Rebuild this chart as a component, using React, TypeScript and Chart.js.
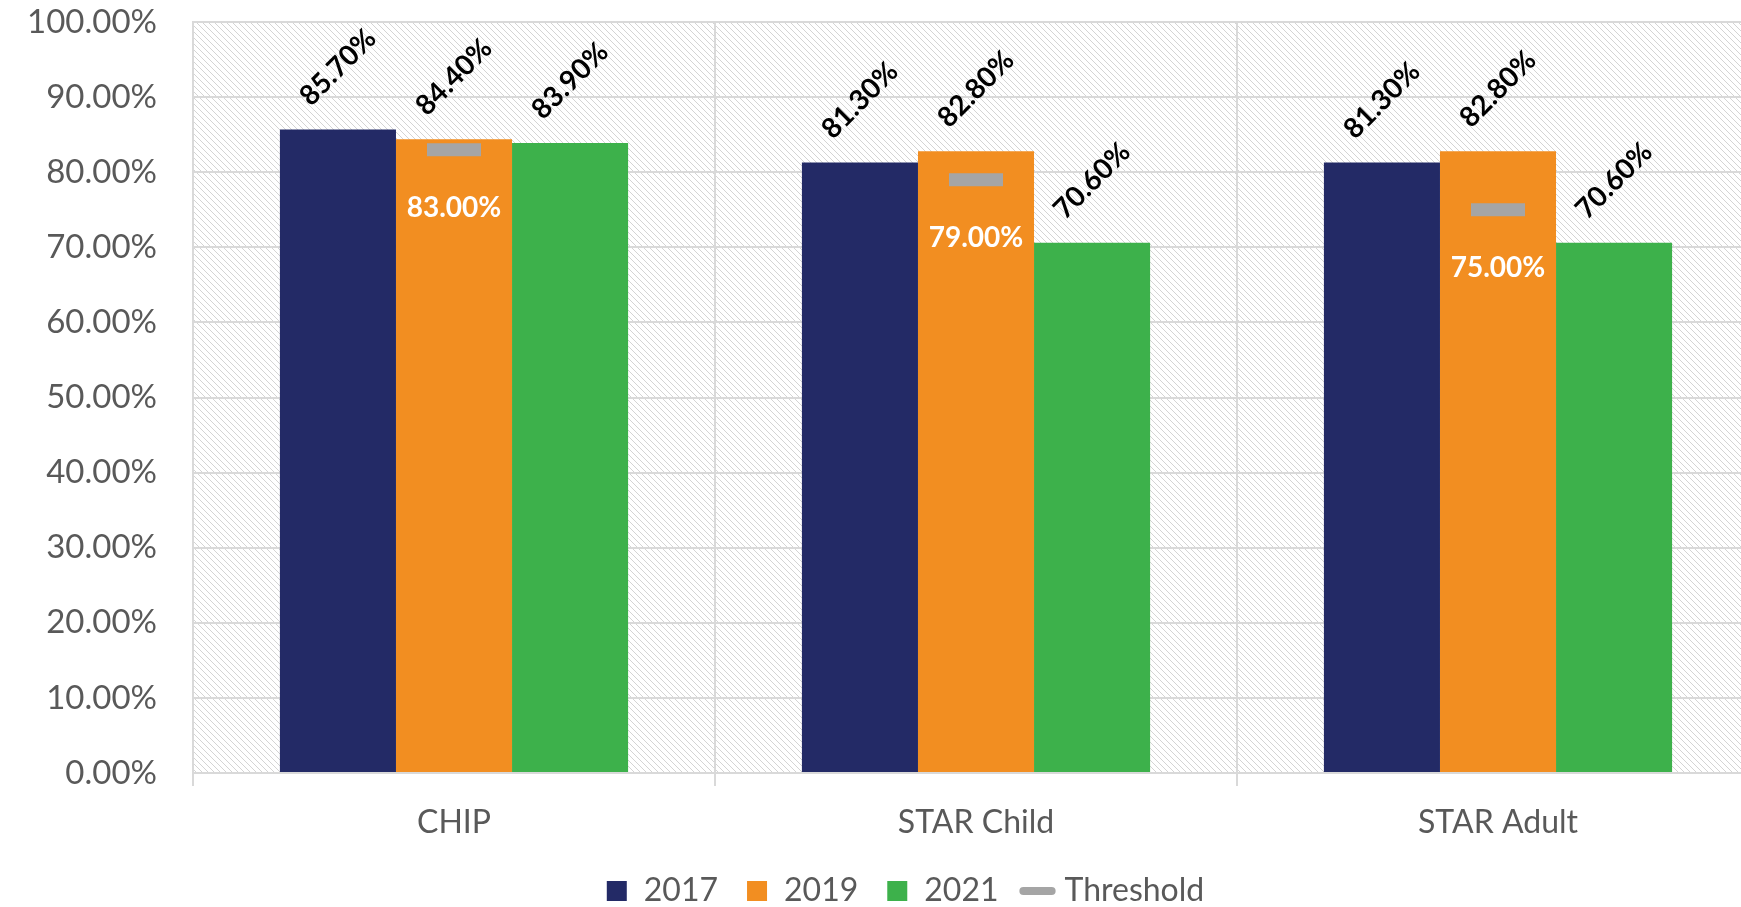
import React, { useEffect, useRef } from "react";
import { Chart, registerables } from "chart.js";

Chart.register(...registerables);

const categories = ["CHIP", "STAR Child", "STAR Adult"];
const values2017 = [85.7, 81.3, 81.3];
const values2019 = [84.4, 82.8, 82.8];
const values2021 = [83.9, 70.6, 70.6];
const thresholdValues = [83.0, 79.0, 75.0];
const seriesLabels = ["2017", "2019", "2021", "Threshold"];

const NAVY = "#232A66";
const ORANGE = "#F28E21";
const GREEN = "#3DB14B";
const GRAY = "#A5A5A5";
const GRID = "#D9D9D9";
const TEXT = "#595959";
const FONT = "Lato, 'Open Sans', sans-serif";

const CANVAS_W = 1810;
const CANVAS_H = 907;
const TARGET_TOP = 22;
const TARGET_BOTTOM = 773;
const TARGET_RIGHT = 1759;

function makePattern(): CanvasPattern | string {
  const c = document.createElement("canvas");
  c.width = 6;
  c.height = 6;
  const g = c.getContext("2d");
  if (!g) return "#ffffff";
  g.fillStyle = "#ffffff";
  g.fillRect(0, 0, 6, 6);
  g.fillStyle = "#D4D4D4";
  for (let i = 0; i < 6; i++) {
    g.fillRect(i, i, 1, 1);
  }
  const ctx = document.createElement("canvas").getContext("2d");
  const p = ctx ? ctx.createPattern(c, "repeat") : null;
  return p || "#ffffff";
}

export default function App() {
  const ref = useRef<HTMLCanvasElement | null>(null);

  useEffect(() => {
    if (!ref.current) return;
    const pattern = makePattern();

    const bgPlugin = {
      id: "hatchBg",
      beforeDraw(chart: any) {
        const { ctx, chartArea } = chart;
        ctx.save();
        ctx.fillStyle = pattern as any;
        ctx.fillRect(chartArea.left, chartArea.top, chartArea.right - chartArea.left, chartArea.bottom - chartArea.top);
        ctx.restore();
      },
    };

    const legendPos = {
      id: "legendPos",
      afterLayout(chart: any) {
        const lg = chart.legend;
        if (!lg) return;
        const dx = 905 - (lg.left + lg.right) / 2;
        lg.left += dx;
        lg.right += dx;
        const pad = lg.options.labels.padding;
        const dy = 891 - (lg.top + pad + 16);
        lg.top += dy;
        lg.bottom += dy;
      },
    };

    const labelPlugin = {
      id: "valueLabels",
      afterDatasetsDraw(chart: any) {
        const { ctx } = chart;
        ctx.save();
        for (let d = 0; d < 3; d++) {
          const meta = chart.getDatasetMeta(d);
          const data = chart.data.datasets[d].data as number[];
          meta.data.forEach((el: any, i: number) => {
            ctx.save();
            ctx.translate(el.x, el.y - 62);
            ctx.rotate(-Math.PI / 4);
            ctx.font = `bold 28px ${FONT}`;
            ctx.fillStyle = "#000000";
            ctx.textAlign = "center";
            ctx.textBaseline = "middle";
            ctx.fillText(data[i].toFixed(2) + "%", 0, 0);
            ctx.restore();
          });
        }
        const tm = chart.getDatasetMeta(3);
        const td = chart.data.datasets[3].data as number[];
        tm.data.forEach((el: any, i: number) => {
          ctx.font = `bold 28px ${FONT}`;
          ctx.fillStyle = "#FFFFFF";
          ctx.textAlign = "center";
          ctx.textBaseline = "middle";
          ctx.fillText(td[i].toFixed(2) + "%", el.x, el.y + 58);
        });
        ctx.restore();
      },
    };

    const chart = new Chart(ref.current, {
      type: "bar",
      data: {
        labels: categories,
        datasets: [
          { type: "bar", label: seriesLabels[0], data: values2017, backgroundColor: NAVY, borderWidth: 0 },
          { type: "bar", label: seriesLabels[1], data: values2019, backgroundColor: ORANGE, borderWidth: 0 },
          { type: "bar", label: seriesLabels[2], data: values2021, backgroundColor: GREEN, borderWidth: 0 },
          {
            type: "line",
            label: seriesLabels[3],
            data: thresholdValues,
            showLine: false,
            order: -1,
            pointStyle: "line",
            pointRadius: 27,
            pointHoverRadius: 27,
            pointBorderWidth: 13,
            pointHoverBorderWidth: 13,
            pointBorderColor: GRAY,
            pointBackgroundColor: GRAY,
            borderColor: GRAY,
            backgroundColor: GRAY,
          } as any,
        ],
      },
      options: {
        responsive: false,
        animation: false,
        devicePixelRatio: 1,
        layout: {
          autoPadding: false,
          padding: { top: TARGET_TOP, right: CANVAS_W - TARGET_RIGHT, left: 0, bottom: 0 },
        },
        datasets: {
          bar: { categoryPercentage: 0.667, barPercentage: 1.0 },
        },
        plugins: {
          tooltip: { enabled: false },
          legend: {
            position: "bottom",
            labels: {
              usePointStyle: true,
              boxWidth: 22,
              boxHeight: 20,
              padding: 28,
              color: TEXT,
              font: { family: FONT, size: 32 },
              generateLabels(chart: any) {
                return chart.data.datasets.map((ds: any, i: number) => {
                  const isLine = i === 3;
                  return {
                    text: ds.label,
                    datasetIndex: i,
                    fillStyle: isLine ? GRAY : ds.backgroundColor,
                    strokeStyle: isLine ? GRAY : ds.backgroundColor,
                    lineWidth: isLine ? 8 : 0,
                    lineCap: "round",
                    pointStyle: isLine ? "line" : "rect",
                    fontColor: TEXT,
                    hidden: false,
                  };
                });
              },
            },
          },
        },
        scales: {
          x: {
            grid: {
              color: GRID,
              lineWidth: 2,
              tickLength: 13,
              drawOnChartArea: true,
              offset: true,
            },
            border: { color: GRID, width: 2 },
            ticks: { color: TEXT, font: { family: FONT, size: 32 }, padding: 17 },
          },
          y: {
            min: 0,
            max: 100,
            ticks: {
              stepSize: 10,
              color: TEXT,
              font: { family: FONT, size: 33 },
              padding: 0,
              callback: (v: any) => Number(v).toFixed(2) + "%",
            },
            grid: {
              color: GRID,
              lineWidth: 2,
              drawTicks: true,
              tickLength: 36,
              tickColor: "rgba(0,0,0,0)",
            },
            border: { color: GRID, width: 2 },
            afterFit(scale: any) {
              scale.width = 193;
            },
          },
        },
      } as any,
      plugins: [bgPlugin, legendPos, labelPlugin],
    });

    // Adjust outer padding so the plot area lands where the reference has it.
    const pad = { top: TARGET_TOP, right: CANVAS_W - TARGET_RIGHT, left: 0, bottom: 0 };
    for (let k = 0; k < 4; k++) {
      const ca = chart.chartArea;
      const dt = TARGET_TOP - ca.top;
      const db = ca.bottom - TARGET_BOTTOM;
      if (Math.abs(dt) < 0.5 && Math.abs(db) < 0.5) break;
      pad.top += dt;
      pad.bottom += db;
      (chart.config.options as any).layout.padding = { ...pad };
      chart.update();
    }

    return () => chart.destroy();
  }, []);

  return (
    <div style={{ position: "fixed", left: 0, top: 0, width: "100vw", height: "100vh", overflow: "hidden", background: "#ffffff" }}>
      <canvas ref={ref} width={CANVAS_W} height={CANVAS_H} style={{ display: "block", width: CANVAS_W + "px", height: CANVAS_H + "px" }} />
    </div>
  );
}
